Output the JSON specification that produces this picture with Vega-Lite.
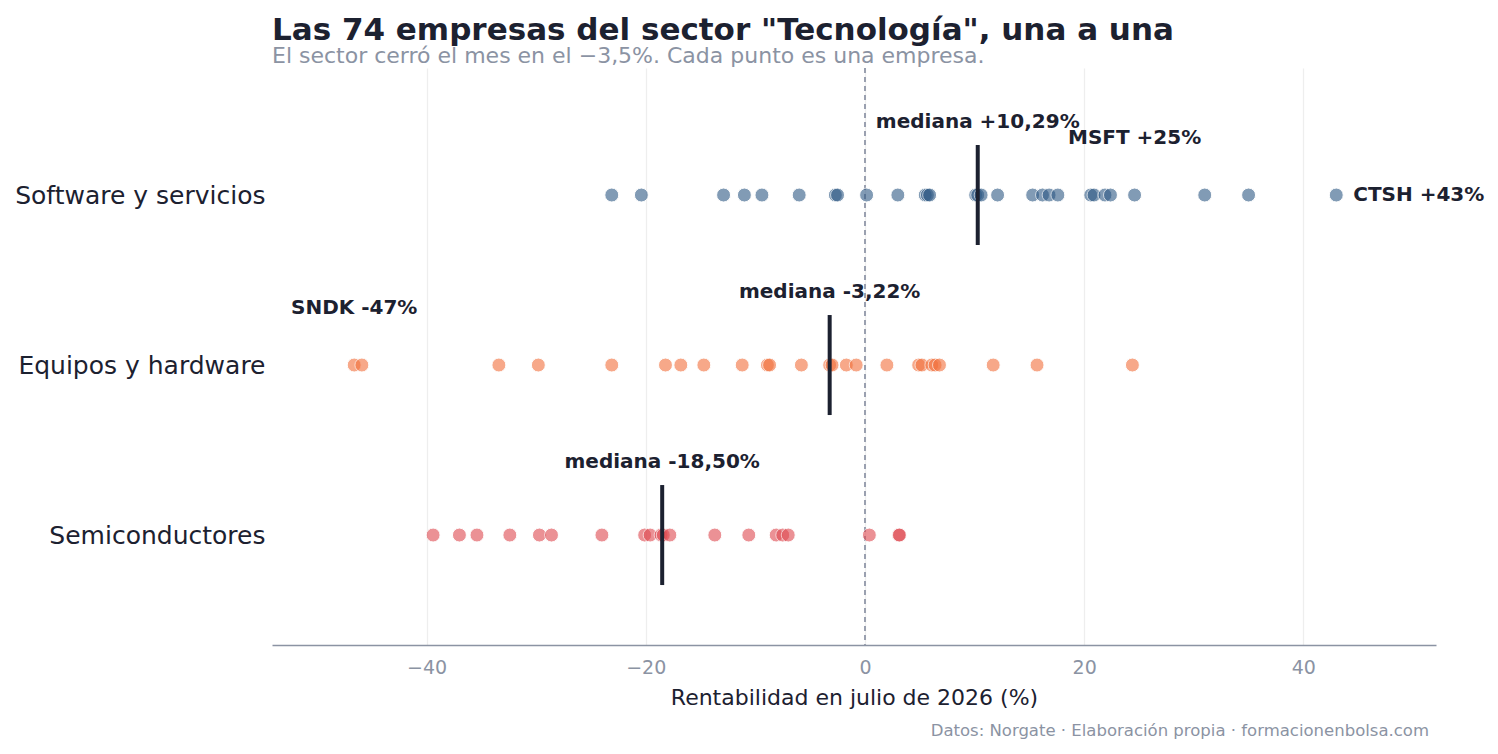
{
  "$schema": "https://vega.github.io/schema/vega-lite/v6.json",
  "autosize": {"type": "none"},
  "width": 1164,
  "height": 577,
  "padding": {"left": 272, "top": 68, "right": 62, "bottom": 109},
  "background": "white",
  "config": {
    "font": "DejaVu Sans",
    "view": {"stroke": null}
  },
  "title": {
    "text": "Las 74 empresas del sector \"Tecnología\", una a una",
    "subtitle": "El sector cerró el mes en el −3,5%. Cada punto es una empresa.",
    "anchor": "start",
    "frame": "group",
    "fontSize": 31,
    "fontWeight": "bold",
    "color": "#1c2130",
    "subtitleFontSize": 22,
    "subtitleColor": "#8b93a3",
    "subtitlePadding": -1,
    "offset": -1
  },
  "datasets": {
    "empresas": [
      {"sector": "Software y servicios", "r": -23.1},
      {"sector": "Software y servicios", "r": -20.4},
      {"sector": "Software y servicios", "r": -12.9},
      {"sector": "Software y servicios", "r": -11.0},
      {"sector": "Software y servicios", "r": -9.4},
      {"sector": "Software y servicios", "r": -6.0},
      {"sector": "Software y servicios", "r": -2.7},
      {"sector": "Software y servicios", "r": -2.5},
      {"sector": "Software y servicios", "r": 0.15},
      {"sector": "Software y servicios", "r": 3.0},
      {"sector": "Software y servicios", "r": 5.5},
      {"sector": "Software y servicios", "r": 5.7},
      {"sector": "Software y servicios", "r": 5.9},
      {"sector": "Software y servicios", "r": 10.1},
      {"sector": "Software y servicios", "r": 10.29},
      {"sector": "Software y servicios", "r": 10.6},
      {"sector": "Software y servicios", "r": 12.1},
      {"sector": "Software y servicios", "r": 15.3},
      {"sector": "Software y servicios", "r": 16.2},
      {"sector": "Software y servicios", "r": 16.8},
      {"sector": "Software y servicios", "r": 17.6},
      {"sector": "Software y servicios", "r": 20.6},
      {"sector": "Software y servicios", "r": 20.9},
      {"sector": "Software y servicios", "r": 21.9},
      {"sector": "Software y servicios", "r": 22.4},
      {"sector": "Software y servicios", "r": 24.6},
      {"sector": "Software y servicios", "r": 31.0},
      {"sector": "Software y servicios", "r": 35.0},
      {"sector": "Software y servicios", "r": 43.0},
      {"sector": "Equipos y hardware", "r": -46.6},
      {"sector": "Equipos y hardware", "r": -45.9},
      {"sector": "Equipos y hardware", "r": -33.4},
      {"sector": "Equipos y hardware", "r": -29.8},
      {"sector": "Equipos y hardware", "r": -23.1},
      {"sector": "Equipos y hardware", "r": -18.2},
      {"sector": "Equipos y hardware", "r": -16.8},
      {"sector": "Equipos y hardware", "r": -14.7},
      {"sector": "Equipos y hardware", "r": -11.2},
      {"sector": "Equipos y hardware", "r": -8.9},
      {"sector": "Equipos y hardware", "r": -8.7},
      {"sector": "Equipos y hardware", "r": -5.8},
      {"sector": "Equipos y hardware", "r": -3.22},
      {"sector": "Equipos y hardware", "r": -3.0},
      {"sector": "Equipos y hardware", "r": -1.7},
      {"sector": "Equipos y hardware", "r": -0.8},
      {"sector": "Equipos y hardware", "r": 2.0},
      {"sector": "Equipos y hardware", "r": 4.9},
      {"sector": "Equipos y hardware", "r": 5.2},
      {"sector": "Equipos y hardware", "r": 6.1},
      {"sector": "Equipos y hardware", "r": 6.4},
      {"sector": "Equipos y hardware", "r": 6.8},
      {"sector": "Equipos y hardware", "r": 11.7},
      {"sector": "Equipos y hardware", "r": 15.7},
      {"sector": "Equipos y hardware", "r": 24.4},
      {"sector": "Semiconductores", "r": -39.4},
      {"sector": "Semiconductores", "r": -37.0},
      {"sector": "Semiconductores", "r": -35.4},
      {"sector": "Semiconductores", "r": -32.4},
      {"sector": "Semiconductores", "r": -29.7},
      {"sector": "Semiconductores", "r": -28.6},
      {"sector": "Semiconductores", "r": -24.0},
      {"sector": "Semiconductores", "r": -20.1},
      {"sector": "Semiconductores", "r": -19.6},
      {"sector": "Semiconductores", "r": -18.6},
      {"sector": "Semiconductores", "r": -18.4},
      {"sector": "Semiconductores", "r": -17.8},
      {"sector": "Semiconductores", "r": -13.7},
      {"sector": "Semiconductores", "r": -10.6},
      {"sector": "Semiconductores", "r": -8.1},
      {"sector": "Semiconductores", "r": -7.5},
      {"sector": "Semiconductores", "r": -7.0},
      {"sector": "Semiconductores", "r": 0.4},
      {"sector": "Semiconductores", "r": 3.1},
      {"sector": "Semiconductores", "r": 3.15}
    ],
    "medianas": [
      {"sector": "Software y servicios", "mediana": 10.29, "label": "mediana +10,29%"},
      {"sector": "Equipos y hardware", "mediana": -3.22, "label": "mediana -3,22%"},
      {"sector": "Semiconductores", "mediana": -18.5, "label": "mediana -18,50%"}
    ],
    "destacadas": [
      {"sector": "Software y servicios", "r": 24.6, "label": "MSFT +25%", "pos": "arriba"},
      {"sector": "Equipos y hardware", "r": -46.6, "label": "SNDK -47%", "pos": "arriba"},
      {"sector": "Software y servicios", "r": 43.0, "label": "CTSH +43%", "pos": "lado"}
    ],
    "pie": [
      {"texto": "Datos: Norgate · Elaboración propia · formacionenbolsa.com"}
    ]
  },
  "layer": [
    {
      "data": {"name": "empresas"},
      "mark": {"type": "rule", "color": "#9aa0b0", "strokeDash": [5, 4], "strokeWidth": 1.3},
      "encoding": {"x": {"datum": 0, "type": "quantitative"}}
    },
    {
      "data": {"name": "empresas"},
      "mark": {"type": "circle", "opacity": 0.6, "stroke": "white", "strokeWidth": 1, "size": 195},
      "encoding": {
        "x": {
          "field": "r",
          "type": "quantitative",
          "scale": {"domain": [-54.1, 52.1], "nice": false, "zero": false},
          "axis": {
            "values": [-40, -20, 0, 20, 40],
            "title": "Rentabilidad en julio de 2026 (%)",
            "titleFontSize": 22,
            "titleFontWeight": "normal",
            "titleColor": "#1c2130",
            "titlePadding": 10,
            "labelFontSize": 19,
            "labelColor": "#8b93a3",
            "labelPadding": 13,
            "ticks": false,
            "domainColor": "#8b93a3",
            "domainWidth": 1.3,
            "grid": true,
            "gridColor": "#eeeeee",
            "gridWidth": 1.3
          }
        },
        "y": {
          "field": "sector",
          "type": "nominal",
          "scale": {
            "type": "point",
            "domain": ["Software y servicios", "Equipos y hardware", "Semiconductores"],
            "padding": 0.697,
            "align": 0.536
          },
          "axis": {
            "title": null,
            "domain": false,
            "ticks": false,
            "grid": false,
            "labelFontSize": 25,
            "labelColor": "#1c2130",
            "labelPadding": 7,
            "labelLimit": 0
          }
        },
        "color": {
          "field": "sector",
          "type": "nominal",
          "scale": {
            "domain": ["Software y servicios", "Equipos y hardware", "Semiconductores"],
            "range": ["#2f5a85", "#f2703c", "#df4950"]
          },
          "legend": null
        }
      }
    },
    {
      "data": {"name": "medianas"},
      "mark": {"type": "tick", "orient": "vertical", "size": 100, "thickness": 4, "color": "#1c2130", "opacity": 1},
      "encoding": {
        "x": {"field": "mediana", "type": "quantitative"},
        "y": {"field": "sector", "type": "nominal"}
      }
    },
    {
      "data": {"name": "medianas"},
      "mark": {"type": "text", "fontSize": 20, "fontWeight": "bold", "color": "#1c2130", "dy": -73, "align": "center"},
      "encoding": {
        "x": {"field": "mediana", "type": "quantitative"},
        "y": {"field": "sector", "type": "nominal"},
        "text": {"field": "label"}
      }
    },
    {
      "data": {"name": "destacadas"},
      "transform": [{"filter": "datum.pos == 'arriba'"}],
      "mark": {"type": "text", "fontSize": 20, "fontWeight": "bold", "color": "#1c2130", "dy": -57, "align": "center"},
      "encoding": {
        "x": {"field": "r", "type": "quantitative"},
        "y": {"field": "sector", "type": "nominal"},
        "text": {"field": "label"}
      }
    },
    {
      "data": {"name": "destacadas"},
      "transform": [{"filter": "datum.pos == 'lado'"}],
      "mark": {"type": "text", "fontSize": 20, "fontWeight": "bold", "color": "#1c2130", "dx": 17, "align": "left", "baseline": "middle"},
      "encoding": {
        "x": {"field": "r", "type": "quantitative"},
        "y": {"field": "sector", "type": "nominal"},
        "text": {"field": "label"}
      }
    },
    {
      "data": {"name": "pie"},
      "mark": {"type": "text", "fontSize": 16.5, "color": "#8b93a3", "align": "right", "baseline": "middle", "dy": 196, "dx": -7},
      "encoding": {
        "x": {"datum": 52.1, "type": "quantitative"},
        "y": {"datum": "Semiconductores", "type": "nominal"},
        "text": {"field": "texto"}
      }
    }
  ]
}
